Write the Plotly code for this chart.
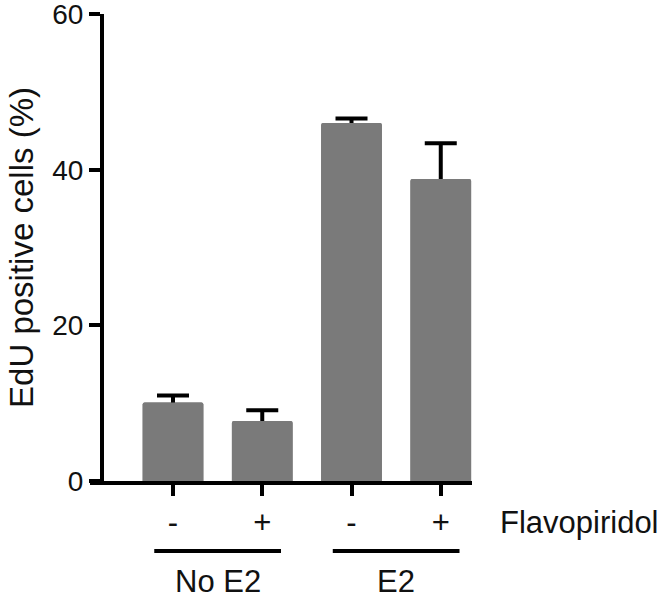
import plotly.graph_objects as go

# ---- data ----
categories = ["NoE2_minus", "NoE2_plus", "E2_minus", "E2_plus"]
sign_labels = ["-", "+", "-", "+"]
edu_values = [10.1, 7.7, 46.0, 38.8]
edu_errors = [0.9, 1.4, 0.6, 4.6]
groups = [("No E2", 0, 1), ("E2", 2, 3)]
y_ticks = [0, 20, 40, 60]

FONT = "Liberation Sans, Arial, Helvetica, sans-serif"
BAR_COLOR = "#7a7a7a"

fig = go.Figure()
# bars with error bars (symmetric; the lower half is hidden by the overlay bars)
fig.add_trace(go.Bar(
    x=categories, y=edu_values,
    marker=dict(color=BAR_COLOR, line=dict(width=0), cornerradius=2),
    error_y=dict(type="data", array=edu_errors, symmetric=True,
                 color="black", thickness=4, width=16),
    showlegend=False, hoverinfo="skip", cliponaxis=False,
))
fig.add_trace(go.Bar(
    x=categories, y=edu_values,
    marker=dict(color=BAR_COLOR, line=dict(width=0), cornerradius=2),
    showlegend=False, cliponaxis=False,
))

# plot area geometry (pixels)
L, R, T, B = 90, 195, 14, 122
W = 667 - L - R
H = 603 - T - B

fig.update_layout(
    width=667, height=603,
    margin=dict(l=L, r=R, t=T, b=B),
    paper_bgcolor="white", plot_bgcolor="white",
    font=dict(family=FONT, size=31, color="#111"),
    barmode="overlay",
    bargap=0.32,
    xaxis=dict(
        type="category", categoryorder="array", categoryarray=categories,
        range=[-0.93, 3.35], automargin=False,
        tickvals=categories, ticktext=sign_labels,
        showline=True, linewidth=4, linecolor="black",
        ticks="outside", ticklen=11, tickwidth=4, tickcolor="black",
        ticklabelstandoff=0,
        showgrid=False, zeroline=False,
        tickfont=dict(size=31),
    ),
    yaxis=dict(
        range=[0, 60.02], tickvals=y_ticks, automargin=False,
        anchor="free", position=12 / W,
        showline=True, linewidth=4, linecolor="black",
        ticks="outside", ticklen=11, tickwidth=4, tickcolor="black",
        ticklabeloverflow="allow",
        showgrid=False, zeroline=False,
        tickfont=dict(size=28),
        title=dict(text="EdU positive cells (%)", font=dict(size=33), standoff=8),
    ),
)

# group lines & labels
line_y = -(551 - 481) / H
label_y = -(581 - 481) / H
for name, i0, i1 in groups:
    mid = (i0 + i1) / 2
    fig.add_shape(type="line", xref="x", yref="paper",
                  x0=mid - 0.71, x1=mid + 0.71, y0=line_y, y1=line_y,
                  line=dict(color="black", width=4))
    fig.add_annotation(text=name, xref="x", yref="paper", x=mid, y=label_y,
                       showarrow=False, xanchor="center", yanchor="middle",
                       font=dict(size=31))

fig.add_annotation(text="Flavopiridol", xref="paper", yref="paper",
                   x=(498 - L) / W, y=-(522 - 481) / H,
                   showarrow=False, xanchor="left", yanchor="middle",
                   font=dict(size=31))

fig.write_html("out.html", config={"displayModeBar": False},
               post_script="document.body.style.margin='0px';")
